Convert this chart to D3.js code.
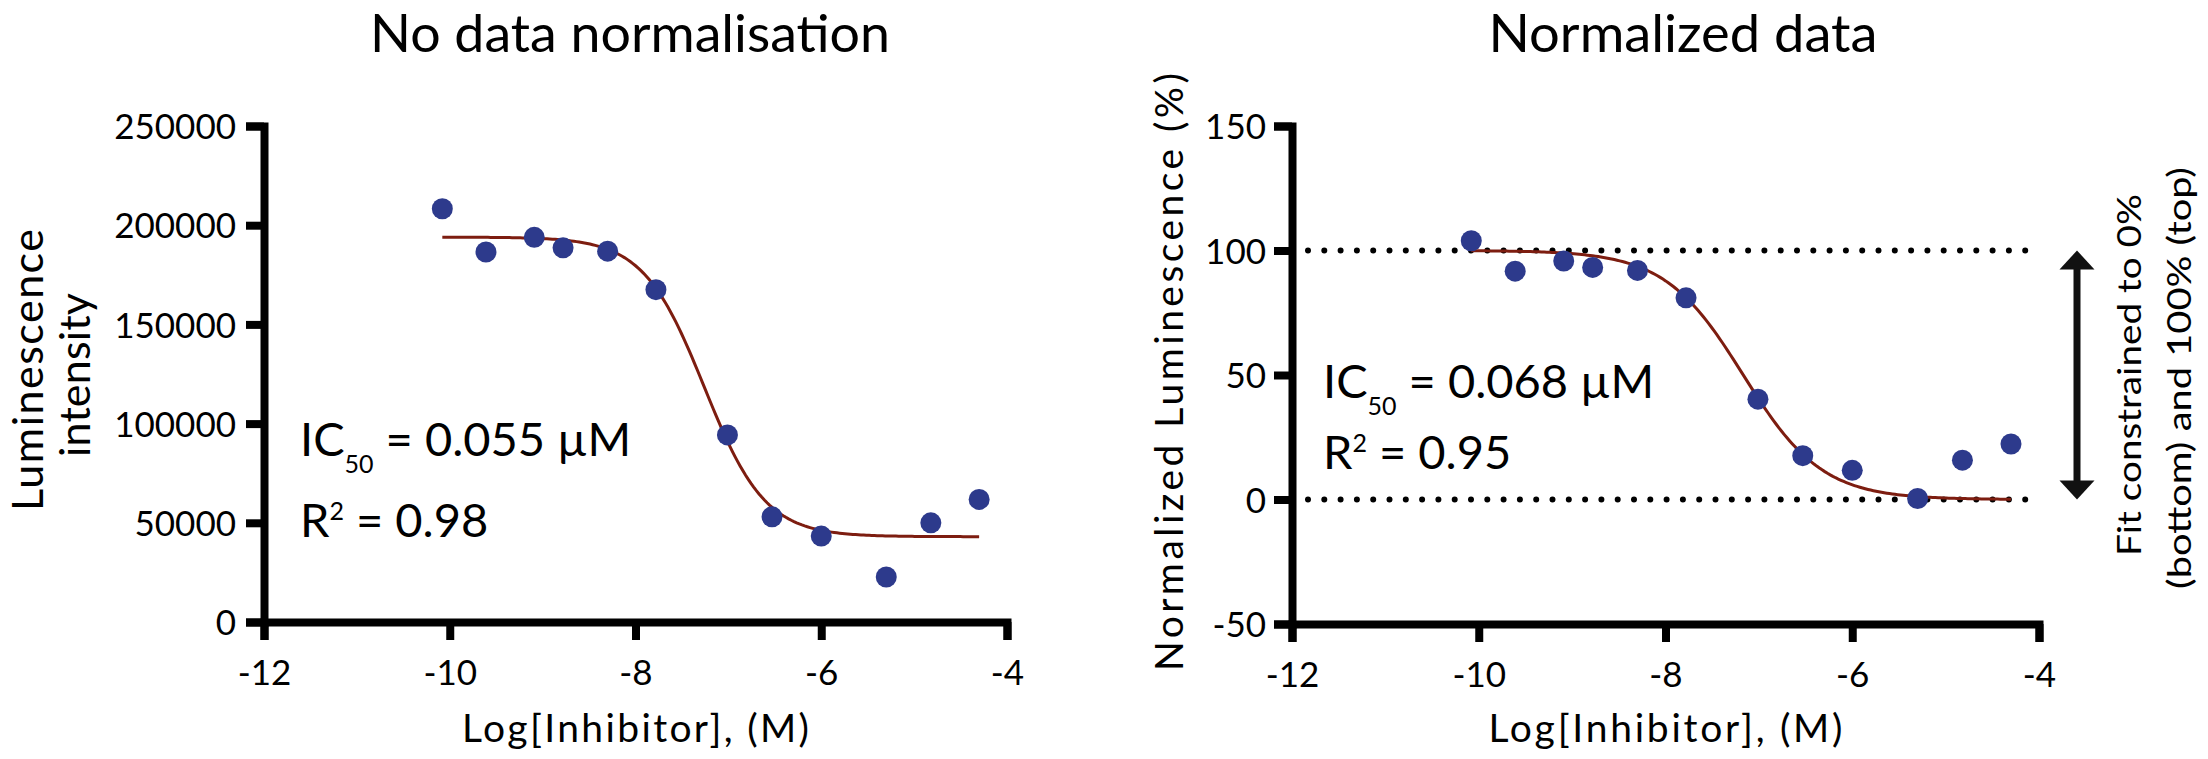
<!DOCTYPE html>
<html><head><meta charset="utf-8">
<script src="https://cdn.jsdelivr.net/npm/d3@7"></script>
<style>
body{margin:0;background:#fff;}
svg{display:block;background:#fff;}
text{font-family:Lato,"Open Sans",sans-serif;fill:#000;white-space:pre;}
</style></head><body>
<svg id="chart" width="2208" height="759"></svg>
<script>
// ---- data ----
const logConc = [-10.08, -9.61, -9.09, -8.78, -8.30, -7.78, -7.01, -6.53, -6.00, -5.30, -4.82, -4.30];
const rawLuminescence = [208300, 186500, 193900, 188600, 186900, 167500, 94300, 53000, 43300, 22700, 50000, 61800];
const normLuminescence = [103.9, 91.7, 95.8, 93.2, 92.0, 81.0, 40.3, 17.6, 11.7, 0.4, 15.8, 22.3];
const xTickValues = [-12, -10, -8, -6, -4];
const rawTickValues = [0, 50000, 100000, 150000, 200000, 250000];
const normTickValues = [-50, 0, 50, 100, 150];
const constraintLevels = [0, 100];
// four-parameter logistic fit parameters (from the fitted curves / IC50 labels)
const rawFit = {top: 194000, bottom: 43000, logIC50: -7.26, hill: 1.32};
const normFit = {top: 100, bottom: 0, logIC50: -7.167, hill: 1.03};
const titles = ["No data normalisation", "Normalized data"];
const xTitle = "Log[Inhibitor], (M)";
const stats = [{ic: "0.055", r2: "0.98"}, {ic: "0.068", r2: "0.95"}];

const svg = d3.select("#chart");
const DOT = "#2d3a8c", CURVE = "#7d1d10";
const plainFmt = d => String(d);

function fit4pl(p, x) { return p.bottom + (p.top - p.bottom) / (1 + Math.pow(10, (x - p.logIC50) * p.hill)); }

function fitText(sel, w, mode) {
  sel.attr("textLength", w).attr("lengthAdjust", mode || "spacingAndGlyphs");
}

function panel(cfg) {
  const g = svg.append("g");
  const x = d3.scaleLinear().domain([-12, -4]).range(cfg.xr);
  const y = d3.scaleLinear().domain(cfg.ydom).range(cfg.yr);

  // axes
  const xa = g.append("g").attr("transform", `translate(0,${cfg.yr[0]})`)
    .call(d3.axisBottom(x).tickValues(xTickValues).tickSize(18).tickSizeOuter(18).tickFormat(plainFmt));
  const ya = g.append("g").attr("transform", `translate(${cfg.xr[0]},0)`)
    .call(d3.axisLeft(y).tickValues(cfg.yticks).tickSize(18).tickSizeOuter(18).tickFormat(plainFmt));
  [xa, ya].forEach(a => {
    a.select(".domain").attr("stroke", "#000").attr("stroke-width", 8).attr("fill", "none").attr("stroke-linejoin", "miter");
    a.selectAll(".tick line").attr("stroke", "#000").attr("stroke-width", 8);
    a.selectAll("text").attr("font-family", "Lato").attr("font-size", 35).attr("fill", "#000");
  });
  xa.selectAll(".tick text").attr("y", 63).attr("dy", 0);
  ya.selectAll(".tick text").attr("x", -cfg.ypad).attr("dy", "0.36em");

  // constraint lines
  if (cfg.dotted) {
    g.selectAll(".cl").data(constraintLevels).enter().append("line")
      .attr("x1", x(-12) + 16).attr("x2", x(-4) - 12)
      .attr("y1", d => y(d)).attr("y2", d => y(d))
      .attr("stroke", "#000").attr("stroke-width", 6).attr("stroke-linecap", "round")
      .attr("stroke-dasharray", "0,16.3");
  }

  // fitted curve
  const x0 = d3.min(logConc), x1 = d3.max(logConc);
  const xs = d3.range(0, 201).map(i => x0 + (x1 - x0) * i / 200);
  g.append("path").datum(xs)
    .attr("d", d3.line().x(d => x(d)).y(d => y(fit4pl(cfg.fit, d))))
    .attr("fill", "none").attr("stroke", CURVE).attr("stroke-width", 3);

  // points
  g.selectAll(".pt").data(logConc).enter().append("circle")
    .attr("cx", d => x(d)).attr("cy", (d, i) => y(cfg.values[i])).attr("r", 10.5).attr("fill", DOT);

  // title
  g.append("text").attr("x", cfg.titleX).attr("y", 52).attr("text-anchor", "middle")
    .attr("font-size", 53).text(cfg.title).call(fitText, cfg.titleW);

  // x title
  g.append("text").attr("x", (cfg.xr[0] + cfg.xr[1]) / 2).attr("y", 742).attr("text-anchor", "middle")
    .attr("font-size", 39).text(xTitle).call(fitText, cfg.xTitleW, "spacing");

  // stats
  const ic = g.append("text").attr("x", cfg.statX).attr("y", cfg.icY).attr("font-size", 47);
  ic.append("tspan").text("IC");
  ic.append("tspan").attr("font-size", 25).attr("dy", 17).text("50");
  ic.append("tspan").attr("dy", -17).text(" = " + cfg.stat.ic + " µM");
  const r = g.append("text").attr("x", cfg.statX).attr("y", cfg.rY).attr("font-size", 47);
  r.append("tspan").text("R");
  r.append("tspan").attr("font-size", 25).attr("dy", -17).text("2");
  r.append("tspan").attr("dy", 17).text(" = " + cfg.stat.r2);
  return {g, x, y};
}

// left panel
const L = panel({xr: [264, 1007], yr: [622, 126], ydom: [0, 250000], yticks: rawTickValues, ypad: 28,
  values: rawLuminescence, fit: rawFit, title: titles[0], titleX: 630, titleW: 520, xTitleW: 347,
  stat: stats[0], statX: 300, icY: 456, rY: 537, dotted: false});
// right panel
const R = panel({xr: [1292, 2039], yr: [624, 126], ydom: [-50, 150], yticks: normTickValues, ypad: 26,
  values: normLuminescence, fit: normFit, title: titles[1], titleX: 1683, titleW: 389, xTitleW: 354,
  stat: stats[1], statX: 1323, icY: 398, rY: 469, dotted: true});

// left y title (two lines)
svg.append("text").attr("transform", "translate(43,370) rotate(-90)").attr("text-anchor", "middle")
  .attr("font-size", 43).text("Luminescence").call(fitText, 282, "spacing");
svg.append("text").attr("transform", "translate(90,375) rotate(-90)").attr("text-anchor", "middle")
  .attr("font-size", 43).text("intensity").call(fitText, 164, "spacing");
// right y title
svg.append("text").attr("transform", "translate(1183,372) rotate(-90)").attr("text-anchor", "middle")
  .attr("font-size", 39).text("Normalized Luminescence (%)").call(fitText, 598, "spacing");

// constraint arrow
const ax = 2077, ayTop = R.y(100), ayBot = R.y(0);
svg.append("line").attr("x1", ax).attr("x2", ax).attr("y1", ayTop + 14).attr("y2", ayBot - 14)
  .attr("stroke", "#111").attr("stroke-width", 7);
svg.append("path").attr("d", `M${ax},${ayTop} L${ax + 17.5},${ayTop + 19} L${ax - 17.5},${ayTop + 19} Z`).attr("fill", "#111");
svg.append("path").attr("d", `M${ax},${ayBot} L${ax + 17.5},${ayBot - 19} L${ax - 17.5},${ayBot - 19} Z`).attr("fill", "#111");
svg.append("text").attr("transform", "translate(2141,375) rotate(-90)").attr("text-anchor", "middle")
  .attr("font-size", 32).text("Fit constrained to 0%").call(fitText, 362);
svg.append("text").attr("transform", "translate(2191,378) rotate(-90)").attr("text-anchor", "middle")
  .attr("font-size", 32).text("(bottom) and 100% (top)").call(fitText, 422);
</script></body></html>
